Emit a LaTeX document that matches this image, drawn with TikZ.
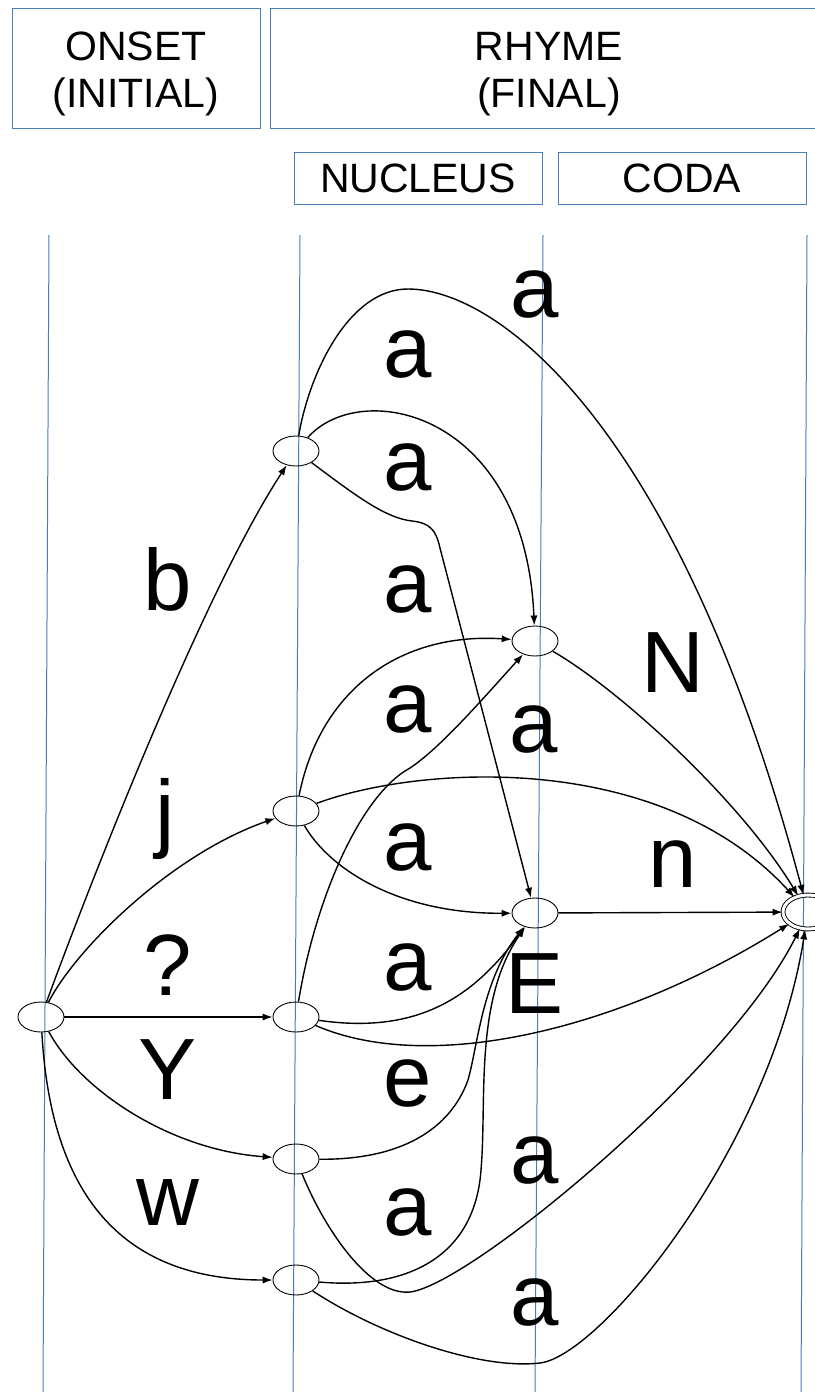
\documentclass[tikz,border=0pt]{standalone}
\usepackage{fontspec}
\setmainfont{Liberation Sans}
\usetikzlibrary{arrows.meta, shapes.geometric}
\usepackage{xcolor}
\definecolor{guide}{HTML}{4A7EBB}
\tikzset{
  state/.style={draw, ellipse, minimum width=23pt, minimum height=15pt,
                inner sep=0pt, line width=0.45pt},
  final/.style={state, minimum width=25pt, minimum height=17pt,
                double, double distance=1.5pt},
  hdr/.style={draw=guide, line width=0.5pt, align=center, inner sep=0pt,
              font=\fontsize{20.5}{23.5}\selectfont},
  hdrtwo/.style={hdr, minimum height=60pt, text height=44pt, text depth=5pt},
  guideline/.style={draw=guide, line width=0.5pt},
  arrow/.style={-{Latex[length=5pt, width=3.6pt]}, line width=0.7pt},
  lbl/.style={font=\fontsize{43.5}{50}\selectfont, anchor=base, inner sep=0pt},
}
\begin{document}
\begin{tikzpicture}[x=0.5pt, y=-0.5pt]
\useasboundingbox (0,0) rectangle (814,1392);

%% ====================  HEADER  ====================

\node[hdrtwo, minimum width=124pt] (onset) at (136,68) {ONSET\\(INITIAL)};
\node[hdrtwo, minimum width=279pt] (rhyme) at (549,68) {RHYME\\(FINAL)};
\node[hdr, minimum width=124pt, minimum height=26pt] (nucleus) at (418,178) {NUCLEUS};
\node[hdr, minimum width=124pt, minimum height=26pt] (coda) at (682,178) {CODA};

%% ====================  COLUMN LINES  ====================

\draw[guideline] (49,235) -- (43,1392);
\draw[guideline] (300,235) -- (293,1392);
\draw[guideline] (543,235) -- (535,1392);
\draw[guideline] (807,235) -- (801,1392);

%% ====================  STATES  ====================

\node[state] (q0) at (41,1017) {};
\node[state] (sb) at (296,451) {};
\node[state] (sj) at (296,811) {};
\node[state] (sq) at (296,1017) {};
\node[state] (sy) at (296,1159) {};
\node[state] (sw) at (296,1280) {};
\node[state] (nuc1) at (535,641) {};
\node[state] (nuc2) at (535,913) {};
\node[final] (fin) at (808,912) {};

%% ====================  ARROWS  ====================

%% Onset
\draw[arrow] (q0) .. controls (95,870) and (205,590) .. (sb);
\draw[arrow] (q0) .. controls (75,950) and (170,855) .. (sj);
\draw[arrow] (q0) -- (sq);
\draw[arrow] (q0) .. controls (80,1090) and (170,1150) .. (sy);
\draw[arrow] (q0) .. controls (50,1180) and (110,1280) .. (sw);

%% b
\draw[arrow] (sb) .. controls (310,370) and (350,289) .. (408,289)
                  .. controls (500,289) and (680,430) .. (fin);
\draw[arrow] (sb) .. controls (360,378) and (525,410) .. (nuc1);
\draw[arrow] (sb) .. controls (355,495) and (385,518) .. (412,521)
                  .. controls (430,523) and (436,530) .. (440,548) -- (nuc2);

%% j
\draw[arrow] (sj) .. controls (320,690) and (400,632) .. (nuc1);
\draw[arrow] (sj) .. controls (420,765) and (660,750) .. (fin);
\draw[arrow] (sj) .. controls (330,870) and (400,914) .. (nuc2);

%% ?
\draw[arrow] (sq) .. controls (315,900) and (360,795) .. (410,768)
                  .. controls (440,748) and (480,702) .. (nuc1);
\draw[arrow] (sq) .. controls (420,1035) and (475,995) .. (nuc2);
\draw[arrow] (sq) .. controls (430,1075) and (620,1030) .. (fin);

%% Y
\draw[arrow] (sy) .. controls (400,1160) and (450,1130) .. (468,1080)
                  .. controls (478,1045) and (482,980) .. (nuc2);
\draw[arrow] (sy) .. controls (325,1230) and (370,1296) .. (410,1292)
                  .. controls (470,1285) and (730,1070) .. (fin);

%% w
\draw[arrow] (sw) .. controls (410,1290) and (475,1255) .. (481,1170)
                  .. controls (487,1100) and (474,1000) .. (nuc2);
\draw[arrow] (sw) .. controls (380,1335) and (480,1370) .. (540,1363)
                  .. controls (600,1356) and (770,1150) .. (fin);

%% Nucleus -> Coda
\draw[arrow] (nuc1) .. controls (620,690) and (740,800) .. (fin);
\draw[arrow] (nuc2) -- (fin);

%% ====================  LABELS  ====================

\node[lbl] (l_a1) at (535,317) {a};
\node[lbl] (l_a2) at (408,377) {a};
\node[lbl] (l_a3) at (408,490) {a};
\node[lbl] (l_b) at (168,610) {b};
\node[lbl] (l_a4) at (408,612) {a};
\node[lbl] (l_N) at (673,692) {N};
\node[lbl] (l_a5) at (408,732) {a};
\node[lbl] (l_a6) at (534,752) {a};
\node[lbl] (l_j) at (165,841) {j};
\node[lbl] (l_a7) at (408,870) {a};
\node[lbl] (l_n) at (673,887) {n};
\node[lbl] (l_q) at (168,995) {?};
\node[lbl] (l_a8) at (408,990) {a};
\node[lbl] (l_E) at (535,1013) {E};
\node[lbl] (l_Y) at (168,1099) {Y};
\node[lbl] (l_e) at (408,1106) {e};
\node[lbl] (l_a9) at (535,1183) {a};
\node[lbl] (l_w) at (168,1225) {w};
\node[lbl] (l_a10) at (408,1235) {a};
\node[lbl] (l_a11) at (535,1325) {a};

\end{tikzpicture}
\end{document}
